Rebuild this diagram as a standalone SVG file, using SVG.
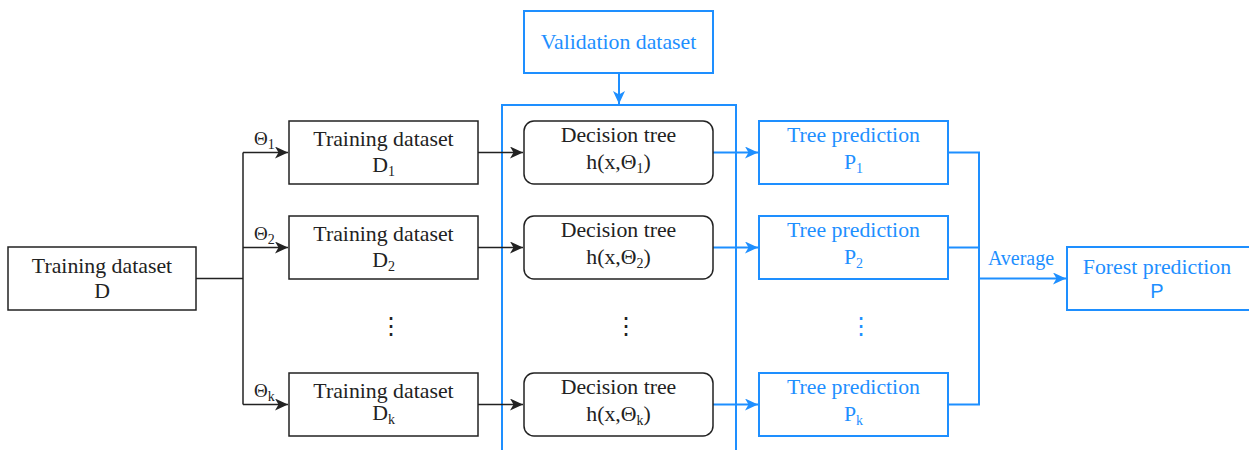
<svg xmlns="http://www.w3.org/2000/svg" width="1249" height="450" viewBox="0 0 1249 450">
<style>
text{font-family:"Liberation Serif","Times New Roman",serif;font-size:21.8px;text-anchor:middle;fill:#222}
.b{fill:#1E8FFF}
.sub{font-size:14px}
.box{fill:#fff;stroke:#222;stroke-width:1.5}
.bbox{fill:#fff;stroke:#1E8FFF;stroke-width:2}
.k{fill:none;stroke:#222;stroke-width:1.5}
.bl{fill:none;stroke:#1E8FFF;stroke-width:2}
.lbl{font-size:19px;text-anchor:start}
.dots{font-family:"DejaVu Sans",sans-serif;font-size:24px}
</style>
<defs>
<marker id="ak" markerUnits="userSpaceOnUse" markerWidth="14" markerHeight="12" refX="13" refY="6" orient="auto"><path d="M0,0 L13,6 L0,12 L3.5,6 Z" fill="#222"/></marker>
<marker id="ab" markerUnits="userSpaceOnUse" markerWidth="14" markerHeight="12" refX="13" refY="6" orient="auto"><path d="M0,0 L13,6 L0,12 L3.5,6 Z" fill="#1E8FFF"/></marker>
</defs>
<rect id="container" x="502" y="105" width="234" height="360" style="fill:none;stroke:#1E8FFF;stroke-width:2"/>
<g id="connectors">
<path class="k" d="M196,278.5 H243"/>
<path class="k" d="M243,152.5 V404.5"/>
<path class="k" d="M243,152.5 H288" marker-end="url(#ak)"/>
<path class="k" d="M243,247.5 H288" marker-end="url(#ak)"/>
<path class="k" d="M243,404.5 H288" marker-end="url(#ak)"/>
<path class="k" d="M478,152.5 H523" marker-end="url(#ak)"/>
<path class="k" d="M478,247.5 H523" marker-end="url(#ak)"/>
<path class="k" d="M478,404.5 H523" marker-end="url(#ak)"/>
<path class="bl" d="M713,152.5 H758" marker-end="url(#ab)"/>
<path class="bl" d="M713,247.5 H758" marker-end="url(#ab)"/>
<path class="bl" d="M713,404.5 H758" marker-end="url(#ab)"/>
<path class="bl" d="M619,73 V104" marker-end="url(#ab)"/>
<path class="bl" d="M948,152.5 H979 V404.5 H948"/>
<path class="bl" d="M948,247.5 H979"/>
<path class="bl" d="M979,278.5 H1066" marker-end="url(#ab)"/>
<text x="254" y="145" class="lbl">Θ<tspan class="sub" dy="4">1</tspan></text>
<text x="254" y="240" class="lbl">Θ<tspan class="sub" dy="4">2</tspan></text>
<text x="254" y="397" class="lbl">Θ<tspan class="sub" dy="4">k</tspan></text>
<text x="1021" y="265" class="b" style="font-size:20px">Average</text>
</g>
<g id="train-D"><rect x="8" y="247" width="188" height="63" class="box"/><text x="102" y="273">Training dataset</text><text x="102" y="298">D</text></g>
<g id="train-D1"><rect x="289" y="121" width="189" height="63" class="box"/><text x="383.5" y="146">Training dataset</text><text x="383.5" y="172">D<tspan class="sub" dy="4">1</tspan></text></g>
<g id="train-D2"><rect x="289" y="216" width="189" height="63" class="box"/><text x="383.5" y="241">Training dataset</text><text x="383.5" y="267">D<tspan class="sub" dy="4">2</tspan></text></g>
<g id="train-Dk"><rect x="289" y="373" width="189" height="63" class="box"/><text x="383.5" y="398">Training dataset</text><text x="383.5" y="420">D<tspan class="sub" dy="4">k</tspan></text></g>
<g id="validation"><rect x="524" y="11" width="189" height="62" class="bbox"/><text x="618.5" y="49" class="b">Validation dataset</text></g>
<g id="tree-1"><rect x="524" y="121" width="189" height="63" rx="10" class="box"/><text x="618.5" y="142">Decision tree</text><text x="618.5" y="169">h(x,Θ<tspan class="sub" dy="4">1</tspan><tspan dy="-4">)</tspan></text></g>
<g id="tree-2"><rect x="524" y="216" width="189" height="63" rx="10" class="box"/><text x="618.5" y="237">Decision tree</text><text x="618.5" y="264">h(x,Θ<tspan class="sub" dy="4">2</tspan><tspan dy="-4">)</tspan></text></g>
<g id="tree-k"><rect x="524" y="373" width="189" height="63" rx="10" class="box"/><text x="618.5" y="394">Decision tree</text><text x="618.5" y="421">h(x,Θ<tspan class="sub" dy="4">k</tspan><tspan dy="-4">)</tspan></text></g>
<g id="pred-1"><rect x="759" y="121" width="189" height="63" class="bbox"/><text x="853.5" y="142" class="b">Tree prediction</text><text x="853.5" y="169" class="b">P<tspan class="sub" dy="4">1</tspan></text></g>
<g id="pred-2"><rect x="759" y="216" width="189" height="63" class="bbox"/><text x="853.5" y="237" class="b">Tree prediction</text><text x="853.5" y="264" class="b">P<tspan class="sub" dy="4">2</tspan></text></g>
<g id="pred-k"><rect x="759" y="373" width="189" height="63" class="bbox"/><text x="853.5" y="394" class="b">Tree prediction</text><text x="853.5" y="421" class="b">P<tspan class="sub" dy="4">k</tspan></text></g>
<g id="forest"><rect x="1067" y="247" width="200" height="63" class="bbox"/><text x="1157" y="274" class="b">Forest prediction</text><text x="1157" y="298" class="b" style="font-family:'Liberation Sans',Arial,sans-serif;font-size:20px">P</text></g>
<g id="ellipses">
<text x="391" y="334" class="dots">⋮</text>
<text x="626" y="334" class="dots">⋮</text>
<text x="861" y="334" class="dots b">⋮</text>
</g>
</svg>
